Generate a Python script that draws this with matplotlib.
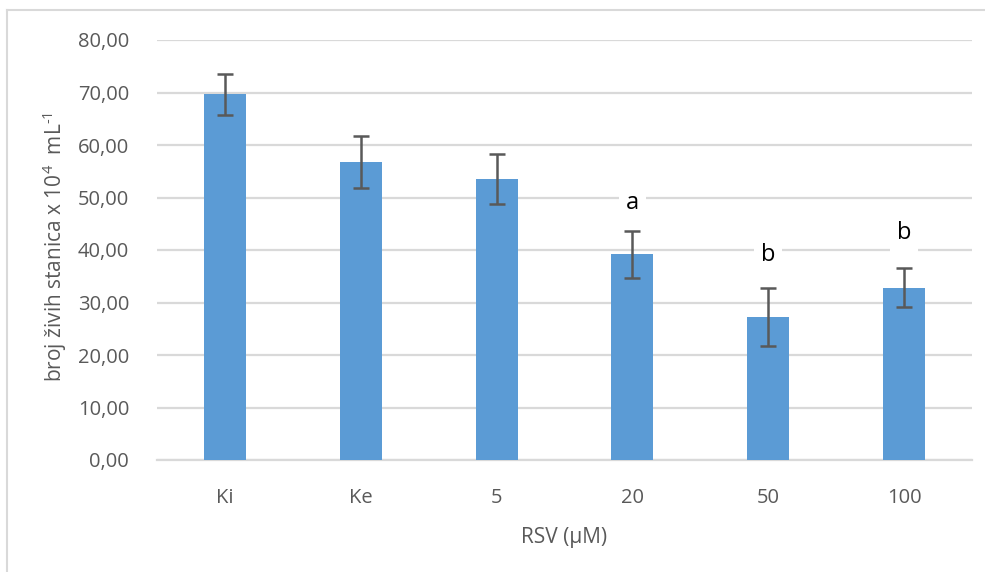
import matplotlib
matplotlib.use("Agg")
import matplotlib.pyplot as plt
from matplotlib.lines import Line2D

plt.rcParams['font.family'] = ['Open Sans', 'DejaVu Sans']
plt.rcParams['mathtext.fontset'] = 'custom'
plt.rcParams['mathtext.rm'] = 'Open Sans'
plt.rcParams['mathtext.it'] = 'Open Sans'

categories = ["Ki", "Ke", "5", "20", "50", "100"]
values = [69.7, 56.8, 53.5, 39.2, 27.2, 32.8]
errors = [3.9, 4.9, 4.7, 4.5, 5.5, 3.7]
letters = ["", "", "", "a", "b", "b"]
letter_y = [0, 0, 0, 49.0, 39.0, 43.3]
yticks = [0, 10, 20, 30, 40, 50, 60, 70, 80]

W, H = 985, 572
fig = plt.figure(figsize=(W / 100, H / 100), dpi=100)
ax = fig.add_axes([157 / W, 1 - 460 / H, (972 - 157) / W, (460 - 40) / H])

x = list(range(len(categories)))
ax.bar(x, values, width=0.31, color="#5B9BD5", zorder=3)
ax.errorbar(x, values, yerr=errors, fmt="none", ecolor="#595959",
            elinewidth=1.8, capsize=6, capthick=1.8, zorder=4)

for xi, lab, ly in zip(x, letters, letter_y):
    if lab:
        ax.text(xi, ly, lab, ha="center", va="center", fontsize=17, color="black",
                zorder=5, bbox=dict(facecolor="white", edgecolor="none", pad=5))

ax.set_xlim(-0.5, len(categories) - 0.5)
ax.set_ylim(0, 80)
ax.set_yticks(yticks)
ax.set_yticklabels([f"{v:.2f}".replace(".", ",") for v in yticks])
ax.set_xticks(x)
ax.set_xticklabels(categories)
ax.yaxis.grid(True, color="#D9D9D9", linewidth=1.6, zorder=0)
ax.set_axisbelow(True)
for s in ["top", "right", "left"]:
    ax.spines[s].set_visible(False)
ax.spines["bottom"].set_color("#D9D9D9")
ax.spines["bottom"].set_linewidth(1.6)
ax.tick_params(axis="both", length=0, labelsize=14.5, labelcolor="#595959")
ax.tick_params(axis="y", pad=20)
ax.tick_params(axis="x", pad=20)

ax.set_xlabel("RSV (µM)", fontsize=15, color="#595959", labelpad=14)
fig.text(55 / W, 1 - 247 / H, r"broj živih stanica x 10$^{4}$  mL$^{\text{-1}}$",
         rotation=90, ha="center", va="center", fontsize=15, color="#595959")

# chart border
fig.add_artist(Line2D([7 / W, 7 / W], [0, 1 - 10 / H], transform=fig.transFigure,
                      color="#D9D9D9", linewidth=1.5))
fig.add_artist(Line2D([7 / W, 1], [1 - 10 / H, 1 - 10 / H], transform=fig.transFigure,
                      color="#D9D9D9", linewidth=1.5))

fig.savefig("out.png", dpi=100, facecolor="white")
